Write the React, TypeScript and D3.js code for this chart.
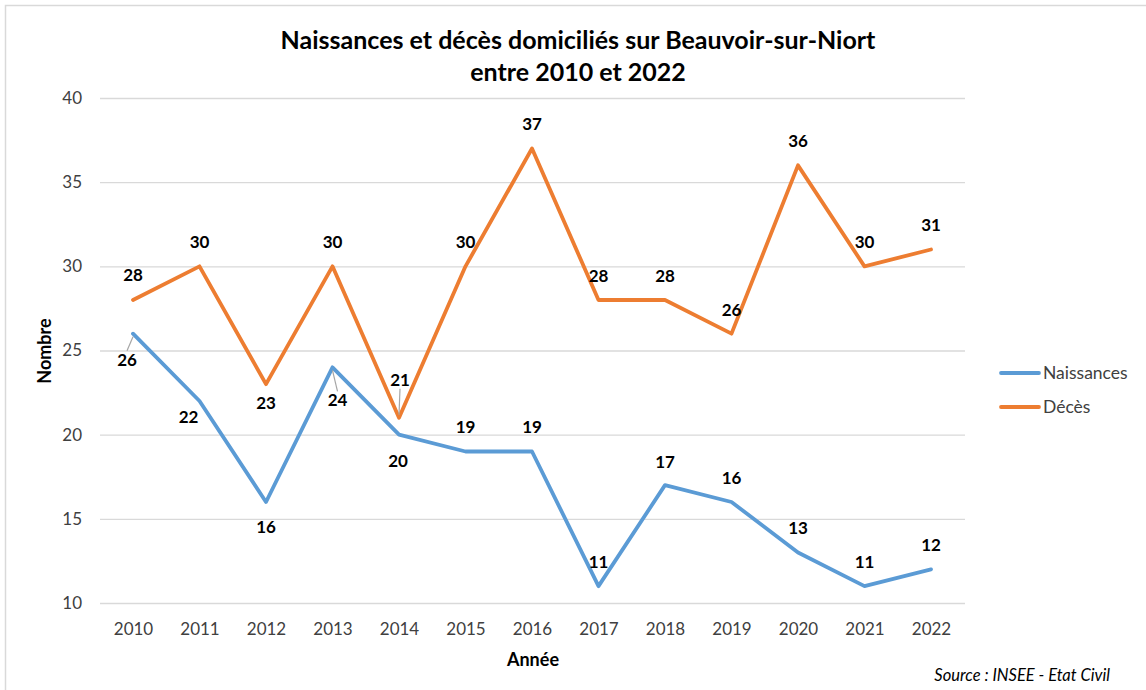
import React, { useEffect, useRef } from 'react';
import * as d3 from 'd3';

const years = ['2010', '2011', '2012', '2013', '2014', '2015', '2016', '2017', '2018', '2019', '2020', '2021', '2022'];
const naissances = [26, 22, 16, 24, 20, 19, 19, 11, 17, 16, 13, 11, 12];
const deces = [28, 30, 23, 30, 21, 30, 37, 28, 28, 26, 36, 30, 31];
const yTicks = [10, 15, 20, 25, 30, 35, 40];

// label placement (dx, dy from the point), leader line flag
const naissancesLabelOffsets = [[-6, 26, 1], [-11, 16, 0], [0, 25, 0], [5, 33, 1], [-1, 26, 0], [0, -24, 0], [0, -24, 0], [0, -24, 0], [0, -23, 0], [0, -24, 0], [0, -24, 0], [0, -24, 0], [0, -24, 0]];
const decesLabelOffsets = [[0, -25, 0], [0, -24, 0], [0, 19, 0], [0, -24, 0], [1, -38, 1], [0, -24, 0], [0, -24, 0], [0, -24, 0], [0, -24, 0], [0, -24, 0], [0, -24, 0], [0, -24, 0], [0, -24, 0]];

const LineChart = () => {
    const svgRef = useRef(null);

    const width = 1146;
    const height = 690;
    const font = 'Lato, "Open Sans", sans-serif';

    useEffect(() => {
        const svg = d3.select(svgRef.current);
        svg.selectAll('*').remove();

        const x = d3.scalePoint()
            .domain(years)
            .range([133, 931]);

        const y = d3.scaleLinear()
            .domain([10, 40])
            .range([603, 98]);

        // outer frame
        svg.append('rect')
            .attr('x', 5.5).attr('y', 5.5)
            .attr('width', 1145).attr('height', 700)
            .attr('fill', 'white')
            .attr('stroke', '#d9d9d9')
            .attr('stroke-width', 1.5);

        // title
        svg.append('text')
            .attr('x', 578).attr('y', 49)
            .attr('text-anchor', 'middle')
            .attr('font-family', font).attr('font-weight', 'bold')
            .attr('font-size', 25).attr('fill', '#000')
            .text('Naissances et décès domiciliés sur Beauvoir-sur-Niort');
        svg.append('text')
            .attr('x', 578).attr('y', 81)
            .attr('text-anchor', 'middle')
            .attr('font-family', font).attr('font-weight', 'bold')
            .attr('font-size', 25).attr('fill', '#000')
            .text('entre 2010 et 2022');

        // grid + y labels
        const yAxis = svg.append('g')
            .attr('transform', 'translate(100,0)')
            .call(d3.axisLeft(y).tickValues(yTicks).tickSize(-865).tickPadding(18))
            .call(g => g.select('.domain').remove());
        yAxis.selectAll('.tick line').attr('stroke', '#d9d9d9').attr('stroke-width', 1.3);
        yAxis.selectAll('.tick text')
            .attr('font-family', font).attr('font-size', 17).attr('fill', '#404040');

        // x labels
        const xAxis = svg.append('g')
            .attr('transform', 'translate(0,603)')
            .call(d3.axisBottom(x).tickSize(0).tickPadding(20))
            .call(g => g.select('.domain').remove());
        xAxis.selectAll('.tick text')
            .attr('font-family', font).attr('font-size', 17).attr('fill', '#404040');

        // axis titles
        svg.append('text')
            .attr('transform', 'translate(51,351) rotate(-90)')
            .attr('text-anchor', 'middle')
            .attr('font-family', font).attr('font-weight', 'bold')
            .attr('font-size', 18).attr('fill', '#000')
            .text('Nombre');
        svg.append('text')
            .attr('x', 533).attr('y', 666)
            .attr('text-anchor', 'middle')
            .attr('font-family', font).attr('font-weight', 'bold')
            .attr('font-size', 18).attr('fill', '#000')
            .text('Année');

        // source
        svg.append('text')
            .attr('x', 1110).attr('y', 681)
            .attr('text-anchor', 'end')
            .attr('font-family', font).attr('font-style', 'italic')
            .attr('font-size', 16.5).attr('fill', '#000')
            .text('Source : INSEE - Etat Civil');

        const series = [
            { name: 'Naissances', values: naissances, color: '#5b9bd5', offsets: naissancesLabelOffsets },
            { name: 'Décès', values: deces, color: '#ed7d31', offsets: decesLabelOffsets },
        ];

        const line = d3.line()
            .x((d, i) => x(years[i]))
            .y(d => y(d));

        series.forEach(s => {
            svg.append('path')
                .datum(s.values)
                .attr('fill', 'none')
                .attr('stroke', s.color)
                .attr('stroke-width', 3.8)
                .attr('stroke-linejoin', 'round')
                .attr('stroke-linecap', 'round')
                .attr('d', line);
        });

        series.forEach(s => {
            const g = svg.append('g');
            s.values.forEach((v, i) => {
                const px = x(years[i]);
                const py = y(v);
                const [dx, dy, leader] = s.offsets[i];
                const lx = px + dx;
                const ly = py + dy;
                if (leader) {
                    const dir = dy > 0 ? -1 : 1;
                    g.append('line')
                        .attr('x1', lx).attr('y1', ly + dir * 9)
                        .attr('x2', px).attr('y2', py + (dir > 0 ? -3 : 3))
                        .attr('stroke', '#a6a6a6')
                        .attr('stroke-width', 1.2);
                }
                g.append('text')
                    .attr('x', lx).attr('y', ly)
                    .attr('dy', '0.35em')
                    .attr('text-anchor', 'middle')
                    .attr('font-family', font).attr('font-weight', 'bold')
                    .attr('font-size', 17).attr('fill', '#000')
                    .text(v);
            });
        });

        // legend
        const legend = svg.append('g');
        series.forEach((s, i) => {
            const ly = 373 + i * 34;
            legend.append('line')
                .attr('x1', 1001).attr('x2', 1039)
                .attr('y1', ly).attr('y2', ly)
                .attr('stroke', s.color)
                .attr('stroke-width', 3.8)
                .attr('stroke-linecap', 'round');
            legend.append('text')
                .attr('x', 1043).attr('y', ly)
                .attr('dy', '0.35em')
                .attr('font-family', font).attr('font-size', 17.5).attr('fill', '#404040')
                .text(s.name);
        });
    }, []);

    return (
        <svg ref={svgRef} width={width} height={height}
            style={{ position: 'absolute', left: 0, top: 0, background: 'white' }} />
    );
};

export default function App() {
    return <LineChart />;
}
